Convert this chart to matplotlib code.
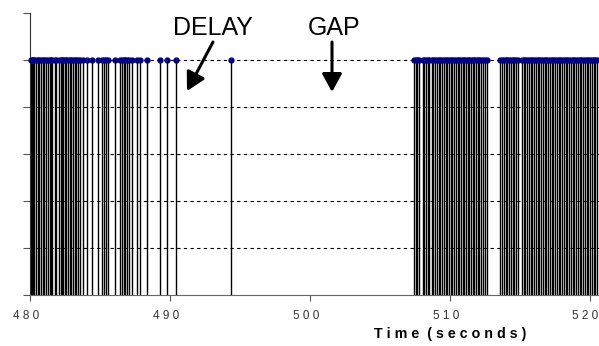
import matplotlib
matplotlib.use("Agg")
import matplotlib.pyplot as plt
import matplotlib.transforms as mtransforms

# packet arrival times (seconds)
times_early = [480.05, 480.12, 480.2, 480.3, 480.42, 480.55, 480.63, 480.75, 480.9, 481.0,
               481.12, 481.3, 481.45, 481.52, 481.6, 481.75, 481.85, 482.05, 482.2, 482.3,
               482.38, 482.5, 482.6, 482.7, 482.85, 482.95, 483.05, 483.2, 483.3, 483.45,
               483.6, 483.75, 484.07, 484.43, 484.86, 485.14, 485.25, 485.4, 485.57, 486.07,
               486.4, 486.55, 486.7, 486.8, 486.95, 487.1, 487.29, 487.64, 487.86, 488.36,
               489.29, 489.79, 490.43, 494.36]
times_late_a = [507.42, 507.55, 507.66, 507.8, 508.05, 508.15, 508.3, 508.42, 508.52, 508.7,
                508.82, 508.95, 509.05, 509.18, 509.3, 509.45, 509.55, 509.68, 509.8, 509.9,
                510.05, 510.15, 510.3, 510.42, 510.55, 510.65, 510.78, 510.9, 511.02, 511.15,
                511.25, 511.38, 511.5, 511.62, 511.72, 511.85, 511.97, 512.1, 512.22, 512.35,
                512.48, 512.62]
times_late_b = [513.6, 513.72, 513.85, 513.98, 514.1, 514.22, 514.35, 514.48, 514.6, 514.72,
                514.85, 515.12, 515.25, 515.38, 515.5, 515.62, 515.75, 515.88, 516.0, 516.12,
                516.25, 516.38, 516.5, 516.62, 516.75, 516.88, 517.0, 517.12, 517.25, 517.38,
                517.5, 517.62, 517.75, 517.88, 518.0, 518.12, 518.25, 518.38, 518.5, 518.62,
                518.75, 518.88, 519.0, 519.12, 519.25, 519.38, 519.5, 519.62, 519.75, 519.88,
                520.0, 520.12, 520.25, 520.38, 520.5]
packet_value = 1.0

x_ticks = [480, 490, 500, 510, 520]
x_tick_labels = ["480", "490", "500", "510", "520"]
y_ticks = [0, 0.2, 0.4, 0.6, 0.8, 1.0, 1.2]
x_label = "Time (seconds)"
annotations = ["DELAY", "GAP"]

plt.rcParams['font.family'] = ['Liberation Sans', 'DejaVu Sans']

W, H = 599, 346
fig = plt.figure(figsize=(W / 100, H / 100), dpi=100)
left_px, right_px, bottom_px, top_px = 30, 599, 295, 13
ax = fig.add_axes([left_px / W, 1 - bottom_px / H, (right_px - left_px) / W, (bottom_px - top_px) / H])

times = times_early + times_late_a + times_late_b
vals = [packet_value] * len(times)

ax.set_xlim(480, 480 + (right_px - left_px) / 14.0)
ax.set_ylim(0, 1.2)

for y in y_ticks[1:-1]:
    ax.axhline(y, color='black', lw=0.8, ls=(0, (3, 3)), zorder=1)

ax.vlines(times, 0, vals, colors='black', lw=1.0, zorder=2)
ax.plot(times, vals, 'o', color='#000080', ms=3.5, zorder=3, clip_on=False)

ax.set_xticks(x_ticks)
ax.set_xticklabels([" ".join(s) for s in x_tick_labels], fontsize=8.5, color='#333333')
ax.set_yticks(y_ticks)
ax.set_yticklabels([])
ax.tick_params(axis='x', length=4, color='#555555', pad=7)
ax.tick_params(axis='y', length=5, color='#555555')
labels = ax.get_xticklabels()
for i, lab in enumerate(labels):
    dx = -5 if i == len(labels) - 1 else -4
    lab.set_transform(lab.get_transform() + mtransforms.ScaledTranslation(dx / 100, 0, fig.dpi_scale_trans))

for s in ['top', 'right']:
    ax.spines[s].set_visible(False)
ax.spines['left'].set_color('#333333')
ax.spines['bottom'].set_color('#666666')

fig.text(450 / W, 1 - 334 / H, " ".join(x_label).replace("   ", "  "),
         ha='center', va='center', fontsize=10.3, fontweight='bold')

def px2data(px, py):
    return 480 + (px - 30) / 14.0, 1.2 - (py - 13) / 235.0

ax.text(*px2data(213, 28), annotations[0], ha='center', va='center', fontsize=18)
ax.text(*px2data(334, 28), annotations[1], ha='center', va='center', fontsize=18)

arrowprops = dict(arrowstyle='-|>,head_length=1.1,head_width=0.6', color='black', lw=2.2,
                  shrinkA=0, shrinkB=0)
ax.annotate("", xy=px2data(187, 91), xytext=px2data(213, 42), arrowprops=arrowprops)
ax.annotate("", xy=px2data(332, 92), xytext=px2data(332, 42), arrowprops=arrowprops)

fig.savefig("out.png", dpi=100)
